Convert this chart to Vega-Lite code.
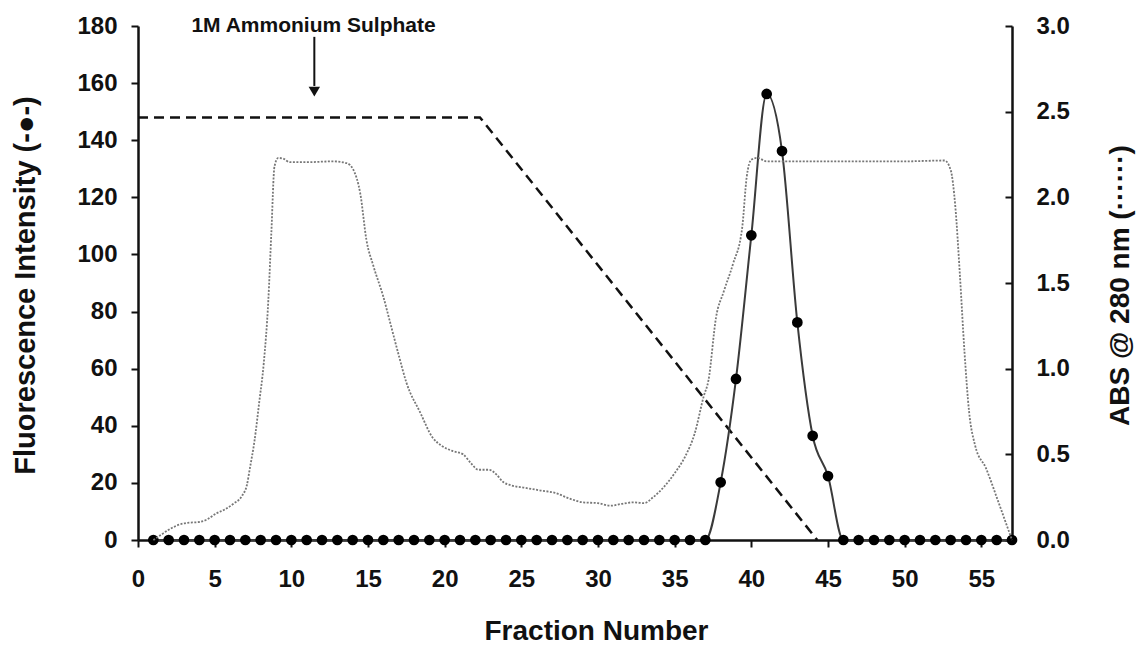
{
  "$schema": "https://vega.github.io/schema/vega-lite/v6.json",
  "width": 874,
  "height": 514,
  "autosize": {"type": "none"},
  "padding": {"left": 138, "top": 26, "right": 128, "bottom": 105},
  "background": "white",
  "config": {
    "view": {"stroke": null},
    "font": "Liberation Sans",
    "axis": {
      "grid": false,
      "labelFont": "Liberation Sans",
      "titleFont": "Liberation Sans",
      "labelFontWeight": "bold",
      "titleFontWeight": "bold",
      "labelFontSize": 24,
      "titleFontSize": 28,
      "labelColor": "#111111",
      "titleColor": "#111111",
      "domainColor": "#111111",
      "tickColor": "#111111",
      "domainWidth": 2.5,
      "tickWidth": 2,
      "tickSize": 7,
      "labelOverlap": false,
      "labelFlush": false
    }
  },
  "datasets": {
    "fluor": [
      {"fraction": 1, "value": 0}, {"fraction": 2, "value": 0}, {"fraction": 3, "value": 0}, {"fraction": 4, "value": 0},
      {"fraction": 5, "value": 0}, {"fraction": 6, "value": 0}, {"fraction": 7, "value": 0}, {"fraction": 8, "value": 0},
      {"fraction": 9, "value": 0}, {"fraction": 10, "value": 0}, {"fraction": 11, "value": 0}, {"fraction": 12, "value": 0},
      {"fraction": 13, "value": 0}, {"fraction": 14, "value": 0}, {"fraction": 15, "value": 0}, {"fraction": 16, "value": 0},
      {"fraction": 17, "value": 0}, {"fraction": 18, "value": 0}, {"fraction": 19, "value": 0}, {"fraction": 20, "value": 0},
      {"fraction": 21, "value": 0}, {"fraction": 22, "value": 0}, {"fraction": 23, "value": 0}, {"fraction": 24, "value": 0},
      {"fraction": 25, "value": 0}, {"fraction": 26, "value": 0}, {"fraction": 27, "value": 0}, {"fraction": 28, "value": 0},
      {"fraction": 29, "value": 0}, {"fraction": 30, "value": 0}, {"fraction": 31, "value": 0}, {"fraction": 32, "value": 0},
      {"fraction": 33, "value": 0}, {"fraction": 34, "value": 0}, {"fraction": 35, "value": 0}, {"fraction": 36, "value": 0},
      {"fraction": 37, "value": 0}, {"fraction": 38, "value": 20.2}, {"fraction": 39, "value": 56.4}, {"fraction": 40, "value": 106.7},
      {"fraction": 41, "value": 156.2}, {"fraction": 42, "value": 136.2}, {"fraction": 43, "value": 76.2}, {"fraction": 44, "value": 36.5},
      {"fraction": 45, "value": 22.4}, {"fraction": 46, "value": 0}, {"fraction": 47, "value": 0}, {"fraction": 48, "value": 0},
      {"fraction": 49, "value": 0}, {"fraction": 50, "value": 0}, {"fraction": 51, "value": 0}, {"fraction": 52, "value": 0},
      {"fraction": 53, "value": 0}, {"fraction": 54, "value": 0}, {"fraction": 55, "value": 0}, {"fraction": 56, "value": 0},
      {"fraction": 57, "value": 0}
    ],
    "gradient": [
      {"fraction": 0, "value": 148},
      {"fraction": 22.3, "value": 148},
      {"fraction": 44.3, "value": 0}
    ],
    "label": [
      {"fraction": 11.45, "value": 177.9, "text": "1M Ammonium Sulphate"}
    ],
    "arrow": [
      {"fraction": 11.5, "value": 176.2, "value2": 159}
    ],
    "arrowhead": [
      {"fraction": 11.5, "value": 157.0}
    ],
    "abs": [
      {"fraction": 1.0, "abs": 0.0}, {"fraction": 1.5, "abs": 0.03}, {"fraction": 2.0, "abs": 0.06},
      {"fraction": 2.7, "abs": 0.09}, {"fraction": 3.2, "abs": 0.1}, {"fraction": 4.0, "abs": 0.105},
      {"fraction": 4.5, "abs": 0.12}, {"fraction": 5.1, "abs": 0.155}, {"fraction": 5.7, "abs": 0.18},
      {"fraction": 6.2, "abs": 0.21}, {"fraction": 6.8, "abs": 0.26}, {"fraction": 7.1, "abs": 0.32},
      {"fraction": 7.3, "abs": 0.42}, {"fraction": 7.6, "abs": 0.58}, {"fraction": 7.9, "abs": 0.8},
      {"fraction": 8.2, "abs": 1.03}, {"fraction": 8.5, "abs": 1.4}, {"fraction": 8.7, "abs": 1.8},
      {"fraction": 8.9, "abs": 2.18}, {"fraction": 9.15, "abs": 2.23}, {"fraction": 9.5, "abs": 2.225},
      {"fraction": 9.9, "abs": 2.205}, {"fraction": 11.0, "abs": 2.205}, {"fraction": 12.7, "abs": 2.21},
      {"fraction": 13.6, "abs": 2.2}, {"fraction": 14.05, "abs": 2.16}, {"fraction": 14.5, "abs": 2.02},
      {"fraction": 14.9, "abs": 1.75}, {"fraction": 15.35, "abs": 1.6}, {"fraction": 16.0, "abs": 1.42},
      {"fraction": 16.5, "abs": 1.25}, {"fraction": 17.0, "abs": 1.08}, {"fraction": 17.5, "abs": 0.92},
      {"fraction": 18.4, "abs": 0.745}, {"fraction": 19.2, "abs": 0.6}, {"fraction": 19.8, "abs": 0.55},
      {"fraction": 20.5, "abs": 0.52}, {"fraction": 21.2, "abs": 0.5}, {"fraction": 21.7, "abs": 0.45},
      {"fraction": 22.2, "abs": 0.41}, {"fraction": 22.9, "abs": 0.41}, {"fraction": 23.4, "abs": 0.38},
      {"fraction": 23.8, "abs": 0.34}, {"fraction": 24.3, "abs": 0.32}, {"fraction": 25.2, "abs": 0.305},
      {"fraction": 26.2, "abs": 0.29}, {"fraction": 27.2, "abs": 0.275}, {"fraction": 28.2, "abs": 0.24},
      {"fraction": 29.0, "abs": 0.22}, {"fraction": 30.0, "abs": 0.215}, {"fraction": 30.8, "abs": 0.2},
      {"fraction": 31.5, "abs": 0.21}, {"fraction": 32.3, "abs": 0.22}, {"fraction": 33.0, "abs": 0.215},
      {"fraction": 33.6, "abs": 0.25}, {"fraction": 34.3, "abs": 0.31}, {"fraction": 35.0, "abs": 0.39},
      {"fraction": 35.7, "abs": 0.49}, {"fraction": 36.3, "abs": 0.62}, {"fraction": 36.9, "abs": 0.84},
      {"fraction": 37.2, "abs": 0.93}, {"fraction": 37.7, "abs": 1.3}, {"fraction": 38.2, "abs": 1.45},
      {"fraction": 38.8, "abs": 1.61}, {"fraction": 39.4, "abs": 1.82}, {"fraction": 39.7, "abs": 2.12},
      {"fraction": 40.0, "abs": 2.22}, {"fraction": 40.4, "abs": 2.23}, {"fraction": 41.0, "abs": 2.21},
      {"fraction": 45.0, "abs": 2.21}, {"fraction": 50.0, "abs": 2.21}, {"fraction": 52.6, "abs": 2.215},
      {"fraction": 53.0, "abs": 2.16}, {"fraction": 53.3, "abs": 1.95}, {"fraction": 53.6, "abs": 1.55},
      {"fraction": 53.9, "abs": 1.1}, {"fraction": 54.2, "abs": 0.75}, {"fraction": 54.6, "abs": 0.55},
      {"fraction": 55.3, "abs": 0.42}, {"fraction": 56.0, "abs": 0.25}, {"fraction": 56.6, "abs": 0.1},
      {"fraction": 57.0, "abs": 0.0}
    ]
  },
  "encoding": {
    "x": {
      "field": "fraction",
      "type": "quantitative",
      "scale": {"domain": [0, 57], "nice": false, "zero": false},
      "axis": {
        "values": [0, 5, 10, 15, 20, 25, 30, 35, 40, 45, 50, 55],
        "title": "Fraction Number",
        "labelPadding": 20,
        "titleX": 458,
        "titleY": 91,
        "titleAlign": "center",
        "titleBaseline": "middle"
      }
    }
  },
  "layer": [
    {
      "encoding": {
        "y": {
          "field": "value",
          "type": "quantitative",
          "scale": {"domain": [0, 180], "nice": false, "zero": true},
          "axis": {
            "orient": "left",
            "values": [0, 20, 40, 60, 80, 100, 120, 140, 160, 180],
            "title": "Fluorescence Intensity (-●-)",
            "titleFontSize": 29,
            "labelPadding": 14,
            "titleX": -113,
            "titleY": 259,
            "titleAngle": -90,
            "titleAlign": "center",
            "titleBaseline": "middle"
          }
        }
      },
      "layer": [
        {
          "data": {"name": "gradient"},
          "mark": {"type": "line", "color": "#111111", "strokeWidth": 2.5, "strokeDash": [10, 6]}
        },
        {
          "data": {"name": "fluor"},
          "mark": {"type": "line", "color": "#3a3a3a", "strokeWidth": 2, "interpolate": "monotone"}
        },
        {
          "data": {"name": "fluor"},
          "mark": {"type": "point", "filled": true, "color": "#000000", "size": 115, "opacity": 1, "shape": "circle"}
        },
        {
          "data": {"name": "label"},
          "mark": {"type": "text", "font": "Liberation Sans", "fontWeight": "bold", "fontSize": 21, "color": "#111111", "align": "center", "baseline": "alphabetic"},
          "encoding": {"text": {"field": "text"}}
        },
        {
          "data": {"name": "arrow"},
          "mark": {"type": "rule", "color": "#111111", "strokeWidth": 2},
          "encoding": {"y2": {"field": "value2"}}
        },
        {
          "data": {"name": "arrowhead"},
          "mark": {"type": "point", "shape": "triangle-down", "filled": true, "color": "#111111", "size": 130, "opacity": 1}
        }
      ]
    },
    {
      "data": {"name": "abs"},
      "mark": {"type": "line", "color": "#777777", "strokeWidth": 1.8, "strokeDash": [2, 1.5], "interpolate": "monotone"},
      "encoding": {
        "y": {
          "field": "abs",
          "type": "quantitative",
          "scale": {"domain": [0, 3], "nice": false, "zero": true},
          "axis": {
            "orient": "right",
            "values": [0, 0.5, 1, 1.5, 2, 2.5, 3],
            "format": ".1f",
            "title": "ABS @ 280 nm (······)",
            "tickSize": -7,
            "labelPadding": 31,
            "titleX": 108,
            "titleY": 259,
            "titleAngle": -90,
            "titleAlign": "center",
            "titleBaseline": "middle"
          }
        }
      }
    }
  ],
  "resolve": {"scale": {"y": "independent"}}
}
